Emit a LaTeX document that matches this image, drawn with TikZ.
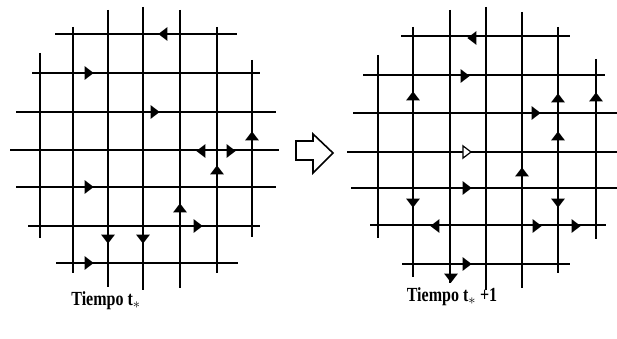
\documentclass[tikz,border=0pt]{standalone}
\usepackage{fontspec}
\setmainfont{Liberation Serif}
\newfontfamily\rotulo[FakeStretch=0.8]{Liberation Serif}
\usetikzlibrary{shapes.geometric}

\begin{document}
\begin{tikzpicture}[
  x=1pt, y=-1pt,
  linea/.style={draw=black, line width=2.1pt},
  particula/.style={isosceles triangle, isosceles triangle apex angle=75,
                    fill=black, inner sep=0pt, minimum size=9pt},
  vacia/.style={particula, draw=black, fill=white, line width=1.2pt, minimum size=8pt},
  flecha/.style={draw=black, line width=1.6pt, line join=miter},
  etiqueta/.style={font=\rotulo\bfseries\fontsize{20}{24}\selectfont, inner sep=0pt}
]
\useasboundingbox (0,0) rectangle (617,339);

%--------------------------------------------------------------
% Rejilla a tiempo t*
%--------------------------------------------------------------
\foreach \y/\xa/\xb in {34/55/237, 73/32/260, 112/16/276, 150/10/279,
                        187/16/276, 226/28/260, 263/56/238}
  \draw[linea] (\xa,\y) -- (\xb,\y);
\foreach \x/\ya/\yb in {40/53/238, 73/27/273, 108/10/287, 143/7/290,
                        180/10/288, 217/27/273, 252/60/237}
  \draw[linea] (\x,\ya) -- (\x,\yb);

\foreach \x/\y/\ang [count=\i] in {164/34/180, 88/73/0, 154/112/0, 252/137/90,
    202/151/180, 230/151/0, 217/171/90, 88/187/0, 180/209/90, 197/226/0,
    108/238/-90, 143/238/-90, 88/263/0}
  \node[particula, rotate=\ang] (izq\i) at (\x,\y) {};

%--------------------------------------------------------------
% Rejilla a tiempo t*+1
%--------------------------------------------------------------
\foreach \y/\xa/\xb in {36/401/570, 75/363/605, 113/353/617, 152/347/617,
                        188/351/617, 225/370/606, 264/402/570}
  \draw[linea] (\xa,\y) -- (\xb,\y);
\foreach \x/\ya/\yb in {378/55/238, 413/27/277, 450/10/283, 486/7/290,
                        522/12/288, 558/27/273, 596/59/239}
  \draw[linea] (\x,\ya) -- (\x,\yb);

\foreach \x/\y/\ang [count=\i] in {473/38/180, 464/76/0, 413/97/90, 558/99/90,
    596/98/90, 535/113/0, 558/137/90, 522/173/90, 466/188/0, 413/202/-90,
    558/202/-90, 436/226/180, 536/226/0, 575/226/0, 466/264/0, 451/277/-90}
  \node[particula, rotate=\ang] (der\i) at (\x,\y) {};
\node[vacia] (der0) at (466,152) {};

%--------------------------------------------------------------
% Flecha entre los dos instantes
%--------------------------------------------------------------
\draw[flecha] (296,141) -- (313,141) -- (313,134) -- (333,153)
  -- (313,173) -- (313,160) -- (296,160) -- cycle;

%--------------------------------------------------------------
% Rotulos
%--------------------------------------------------------------
\node[etiqueta] (tiempo) at (106,301) {Tiempo t$_{\ast}$};
\node[etiqueta] (tiempomas) at (452,297) {Tiempo t$_{\ast}$ +1};

\end{tikzpicture}
\end{document}
